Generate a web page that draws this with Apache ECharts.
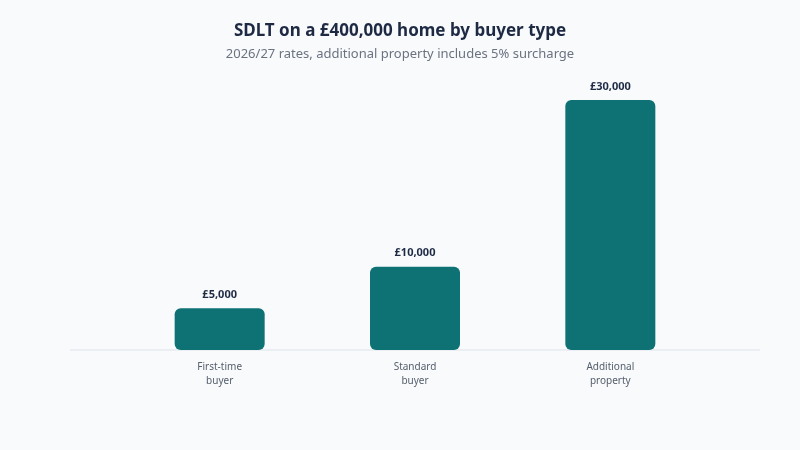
<!DOCTYPE html>
<html><head><meta charset="utf-8">
<script src="https://cdn.jsdelivr.net/npm/echarts@6/dist/echarts.min.js"></script>
<style>html,body{margin:0;padding:0;background:#f8fafc}#c{width:800px;height:450px}</style>
</head><body><div id="c"></div>
<script>
const categories = ['First-time\nbuyer', 'Standard\nbuyer', 'Additional\nproperty'];
const values = [5000, 10000, 30000];
const chart = echarts.init(document.getElementById('c'));
chart.setOption({
  backgroundColor: '#f8fafc',
  textStyle: {fontFamily: 'Noto Sans'},
  title: {
    text: 'SDLT on a £400,000 home by buyer type',
    subtext: '2026/27 rates, additional property includes 5% surcharge',
    left: 'center', top: 18, itemGap: 8,
    textStyle: {fontSize: 17, fontWeight: 'bold', color: '#1e2a44', fontFamily: 'Noto Sans'},
    subtextStyle: {fontSize: 13, color: '#6b7280', fontFamily: 'Noto Sans'}
  },
  grid: {left: 122, right: 92, top: 100, bottom: 100},
  xAxis: {
    type: 'category', data: categories,
    axisLine: {show: false}, axisTick: {show: false},
    axisLabel: {color: '#555e6b', fontSize: 10, lineHeight: 14, margin: 10}
  },
  yAxis: {type: 'value', min: 0, max: 30000, show: false, splitLine: {show: false}},
  graphic: [{type: 'line', shape: {x1: 70, y1: 350, x2: 760, y2: 350}, style: {stroke: '#dde1e7', lineWidth: 1}, z: 0}],
  series: [{
    type: 'bar', data: values, barWidth: 90,
    itemStyle: {color: '#0e7274', borderRadius: 6},
    label: {show: true, position: 'top', distance: 8, fontSize: 11, fontWeight: 'bold', color: '#1e2a44',
      formatter: p => '£' + p.value.toLocaleString('en-GB')}
  }]
});
</script></body></html>
